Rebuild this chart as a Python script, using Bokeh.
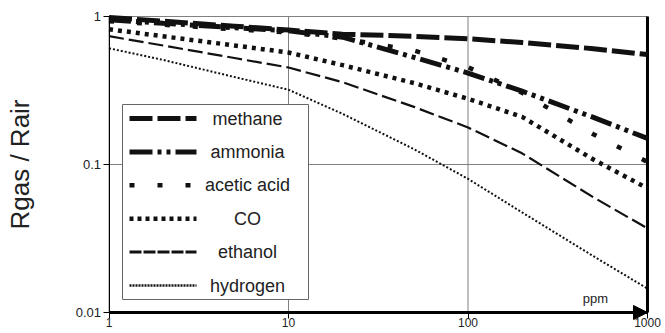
from bokeh.plotting import figure
from bokeh.models import (Range1d, FixedTicker, CustomJSTickFormatter, Arrow,
                          NormalHead, BoxAnnotation, Label)
from bokeh.embed import file_html
from bokeh.resources import INLINE

# ---------------- data ----------------
ppm = [1, 2, 5, 10, 20, 50, 100, 200, 500, 1000]
methane = [0.985, 0.93, 0.86, 0.81, 0.76, 0.735, 0.707, 0.667, 0.606, 0.553]
ammonia = [0.95, 0.90, 0.84, 0.80, 0.725, 0.53, 0.415, 0.313, 0.208, 0.15]
acetic_acid = [0.93, 0.88, 0.82, 0.78, 0.71, 0.59, 0.455, 0.305, 0.16, 0.104]
co = [0.82, 0.735, 0.637, 0.571, 0.469, 0.355, 0.278, 0.21, 0.108, 0.069]
ethanol = [0.736, 0.637, 0.524, 0.452, 0.36, 0.245, 0.178, 0.119, 0.06, 0.037]
hydrogen = [0.61, 0.509, 0.39, 0.32, 0.22, 0.127, 0.08, 0.0475, 0.024, 0.0145]

series_names = ["methane", "ammonia", "acetic acid", "CO", "ethanol", "hydrogen"]
x_ticks = [1, 10, 100, 1000]
y_ticks = [0.01, 0.1, 1]
y_title = "Rgas / Rair"
x_unit = "ppm"

# ---------------- styles / layout ----------------
FONT = "Liberation Sans"
INK = "#111111"
GRID = "#808080"
series_values = [methane, ammonia, acetic_acid, co, ethanol, hydrogen]
line_widths = [5, 5, 4.5, 4.5, 2.2, 2]
plot_dashes = ["23 5", "22 5 4 5 4 5", "5 23", "4 5", "15 5", "2 2"]
legend_widths = [5, 5, 4.5, 4.5, 3, 2.5]
legend_dashes = ["23 5", "23 5 4 5 4 5", "5 23", "4 4", "12 2", "2 1"]

# The frame covers the whole canvas; both axes are pinned to the data box
# (1..1000 x 0.01..1), so that the arrow head and labels are never clipped.
X_VIEW = (0.24852, 1259.9)
Y_VIEW = (0.0072128, 1.2826)

p = figure(width=665, height=333, x_axis_type="log", y_axis_type="log",
           x_range=Range1d(*X_VIEW), y_range=Range1d(*Y_VIEW),
           output_backend="svg", toolbar_location=None,
           min_border_left=0, min_border_right=0,
           min_border_top=0, min_border_bottom=0)
p.background_fill_color = "white"
p.border_fill_color = "white"
p.outline_line_color = None
p.xgrid.visible = False
p.ygrid.visible = False

# grid lines limited to the data box, black right border
nx, ny = len(x_ticks), len(y_ticks)
p.segment(x0=x_ticks, y0=[y_ticks[0]] * nx, x1=x_ticks, y1=[y_ticks[-1]] * nx,
          line_color=GRID, line_width=1)
p.segment(x0=[x_ticks[0]] * ny, y0=y_ticks, x1=[x_ticks[-1]] * ny, y1=y_ticks,
          line_color=GRID, line_width=1)
p.segment(x0=[x_ticks[-1]], y0=[y_ticks[0]], x1=[x_ticks[-1]], y1=[y_ticks[-1]],
          line_color="black", line_width=3)

for vals, w, d in zip(series_values, line_widths, plot_dashes):
    p.line(ppm, vals, line_color=INK, line_width=w, line_dash=d)

fmt = CustomJSTickFormatter(code="return tick.toString();")
for ax, ticks in ((p.xaxis[0], x_ticks), (p.yaxis[0], y_ticks)):
    ax.ticker = FixedTicker(ticks=ticks)
    ax.formatter = fmt
    ax.bounds = (ticks[0], ticks[-1])
    ax.axis_line_color = "black"
    ax.major_tick_line_color = "black"
    ax.major_tick_out = 6
    ax.major_tick_in = 0
    ax.minor_tick_out = 0
    ax.minor_tick_in = 0
    ax.major_label_text_font = FONT
    ax.major_label_text_color = "#222222"

p.xaxis.fixed_location = y_ticks[0]
p.xaxis.axis_line_width = 3
p.xaxis.major_label_standoff = 0
p.xaxis.major_label_text_font_size = "12px"
p.yaxis.fixed_location = x_ticks[0]
p.yaxis.axis_line_width = 1
p.yaxis.major_label_standoff = 2
p.yaxis.major_label_text_font_size = "13px"
p.yaxis.axis_label = y_title
p.yaxis.axis_label_text_font = FONT
p.yaxis.axis_label_text_font_size = "26px"
p.yaxis.axis_label_text_font_style = "normal"
p.yaxis.axis_label_text_color = "#222222"
p.yaxis.axis_label_standoff = 38

# x-axis arrow head
p.add_layout(Arrow(end=NormalHead(size=14, fill_color="black", line_color="black", line_width=1),
                   x_start=x_ticks[-1] / 2, y_start=y_ticks[0],
                   x_end=x_ticks[-1], y_end=y_ticks[0],
                   line_color="black", line_width=3))

p.add_layout(Label(x=595, y=35, x_units="screen", y_units="screen", text=x_unit,
                   text_font=FONT, text_font_size="13px", text_color="#222222",
                   text_align="center", text_baseline="middle"))

# ---------------- custom legend (screen units) ----------------
p.add_layout(BoxAnnotation(left=122, right=308, top=229, bottom=34,
                           left_units="screen", right_units="screen",
                           top_units="screen", bottom_units="screen",
                           fill_color="white", fill_alpha=1.0,
                           line_color="#666666", line_width=1, line_alpha=1.0))
for i, name in enumerate(series_names):
    yy = 215 - i * 33.4
    p.add_layout(Arrow(end=None, x_start=129, x_end=196, y_start=yy, y_end=yy,
                       start_units="screen", end_units="screen",
                       line_color=INK, line_width=legend_widths[i], line_dash=legend_dashes[i]))
    p.add_layout(Label(x=247, y=yy, x_units="screen", y_units="screen", text=name,
                       text_font=FONT, text_font_size="18px", text_color="#222222",
                       text_align="center", text_baseline="middle"))

open("out.html", "w").write(file_html(p, INLINE))
